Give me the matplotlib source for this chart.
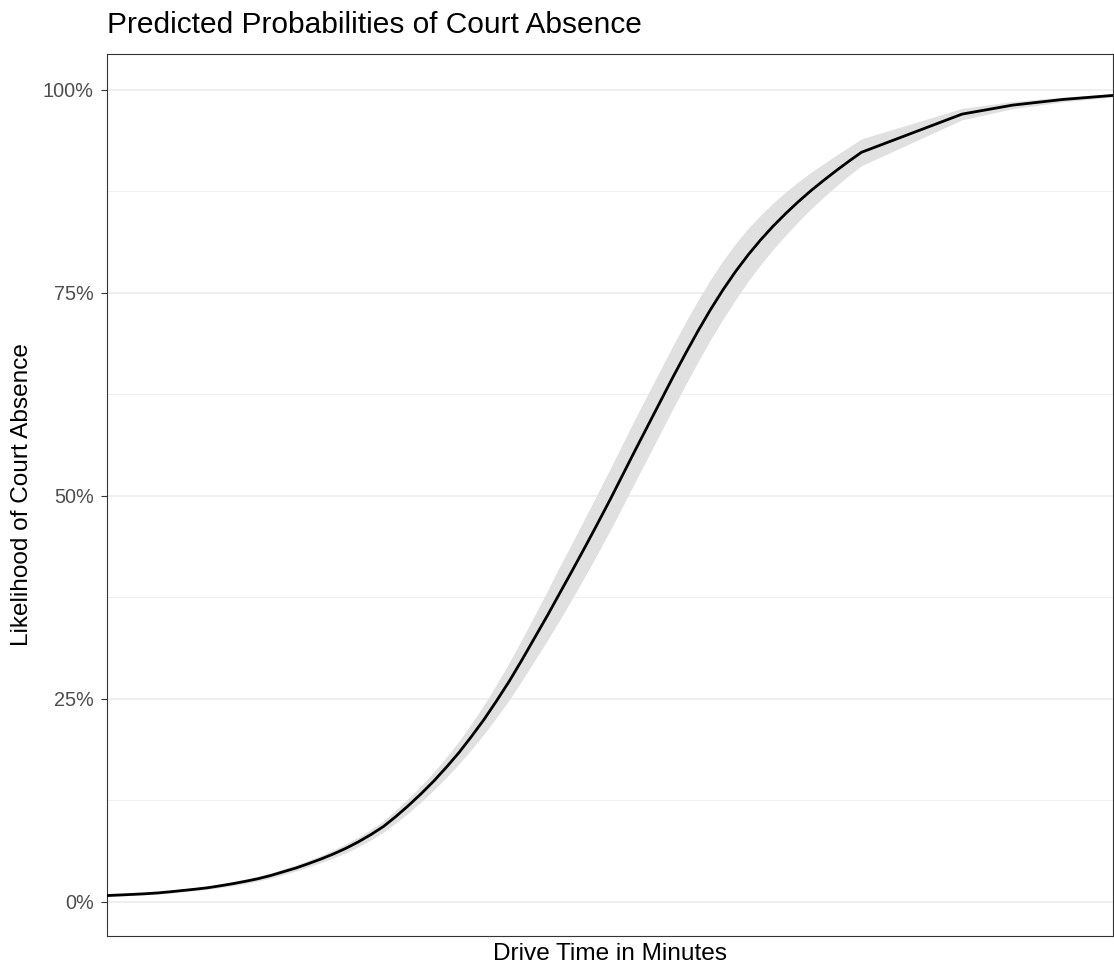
#!/usr/bin/env python
"""Predicted probability of court absence vs. drive time, with CI ribbon."""
import matplotlib
matplotlib.use("Agg")
import matplotlib.pyplot as plt
from matplotlib.ticker import PercentFormatter, MultipleLocator

plt.rcParams["font.family"] = ["Liberation Sans", "DejaVu Sans"]

# drive time (minutes) and predicted probability (%) with 95% band
drive_min = [0, 2.5, 5, 7.5, 10, 12.5, 15, 17.5, 20, 22.5, 25, 27.5, 30, 32.5,
             35, 37.5, 40, 42.5, 45, 47.5, 50, 52.5, 55, 57.5, 60, 62.5, 65,
             67.5, 70, 72.5, 75, 77.5, 80, 82.5, 85, 87.5, 90, 92.5, 95, 97.5,
             100, 102.5, 105, 107.5, 110, 112.5, 115, 117.5, 120, 122.5, 125,
             127.5, 130, 132.5, 135, 137.5, 140, 142.5, 145, 147.5, 150,
             170, 180, 190, 200]
pred_pct = [0.78, 0.85, 0.92, 1.00, 1.10, 1.24, 1.40, 1.56, 1.74, 1.98, 2.24,
            2.53, 2.85, 3.24, 3.70, 4.16, 4.70, 5.27, 5.90, 6.60, 7.40, 8.30,
            9.30, 10.55, 11.9, 13.35, 14.9, 16.6, 18.4, 20.4, 22.5, 24.8, 27.2,
            29.8, 32.5, 35.2, 38.0, 40.8, 43.65, 46.55, 49.5, 52.55, 55.6,
            58.6, 61.6, 64.6, 67.5, 70.3, 72.95, 75.4, 77.65, 79.7, 81.55,
            83.25, 84.8, 86.25, 87.6, 88.85, 90.05, 91.2, 92.3,
            97.0, 98.1, 98.8, 99.3]
lower_pct = [0.66, 0.72, 0.79, 0.86, 0.95, 1.08, 1.23, 1.38, 1.55, 1.76, 1.99,
             2.26, 2.55, 2.92, 3.35, 3.79, 4.30, 4.83, 5.40, 6.05, 6.80, 7.65,
             8.60, 9.75, 11.0, 12.35, 13.8, 15.35, 17.0, 18.8, 20.7, 22.75,
             24.9, 27.25, 29.7, 32.15, 34.7, 37.35, 40.05, 42.85, 45.7, 48.7,
             51.7, 54.7, 57.7, 60.7, 63.65, 66.5, 69.25, 71.8, 74.2, 76.45,
             78.5, 80.4, 82.15, 83.8, 85.35, 86.8, 88.15, 89.45, 90.65,
             96.3, 97.65, 98.5, 99.1]
upper_pct = [0.90, 0.98, 1.05, 1.14, 1.25, 1.40, 1.57, 1.74, 1.93, 2.20, 2.49,
             2.81, 3.15, 3.56, 4.05, 4.54, 5.10, 5.72, 6.40, 7.15, 8.00, 8.95,
             10.0, 11.35, 12.8, 14.35, 16.0, 17.85, 19.8, 22.0, 24.3, 26.85,
             29.5, 32.35, 35.3, 38.25, 41.3, 44.25, 47.25, 50.25, 53.3, 56.4,
             59.5, 62.5, 65.5, 68.5, 71.35, 74.1, 76.65, 79.0, 81.1, 82.95,
             84.6, 86.1, 87.45, 88.7, 89.85, 90.9, 91.95, 92.95, 93.95,
             97.7, 98.55, 99.1, 99.5]

W, H = 1114, 971
fig = plt.figure(figsize=(W / 100, H / 100), dpi=100)
ax = fig.add_axes([107 / W, 35 / H, 1006 / W, 882 / H])

ax.fill_between(drive_min, lower_pct, upper_pct, color="#E0E0E0", lw=0, zorder=2)
ax.plot(drive_min, pred_pct, color="black", lw=2.0, zorder=3,
        solid_joinstyle="round")

ax.set_xlim(min(drive_min), max(drive_min))
ax.set_ylim(-4.2, 104.4)
ax.yaxis.set_major_locator(MultipleLocator(25))
ax.yaxis.set_minor_locator(MultipleLocator(12.5))
ax.yaxis.set_major_formatter(PercentFormatter(decimals=0))
ax.set_xticks([])

ax.grid(axis="y", which="major", color="#EBEBEB", lw=1.1, zorder=0)
ax.grid(axis="y", which="minor", color="#EBEBEB", lw=0.55, zorder=0)
ax.set_axisbelow(True)
ax.tick_params(axis="y", which="major", length=4.5, width=0.8, color="#333333",
               labelsize=14.3, labelcolor="#4D4D4D", pad=5)
ax.tick_params(axis="y", which="minor", length=0)
for sp in ax.spines.values():
    sp.set_color("#333333")
    sp.set_linewidth(0.8)

ax.set_xlabel("Drive Time in Minutes", fontsize=17.6, va="baseline")
ax.xaxis.set_label_coords(0.5, -0.0272)
ax.set_ylabel("Likelihood of Court Absence", fontsize=17.6, va="center")
ax.yaxis.set_label_coords(-0.0845, 0.5)

fig.text(107 / W, 1 - 33 / H, "Predicted Probabilities of Court Absence",
         fontsize=21.5, ha="left", va="baseline")

fig.savefig("out.png", dpi=100, facecolor="white")
